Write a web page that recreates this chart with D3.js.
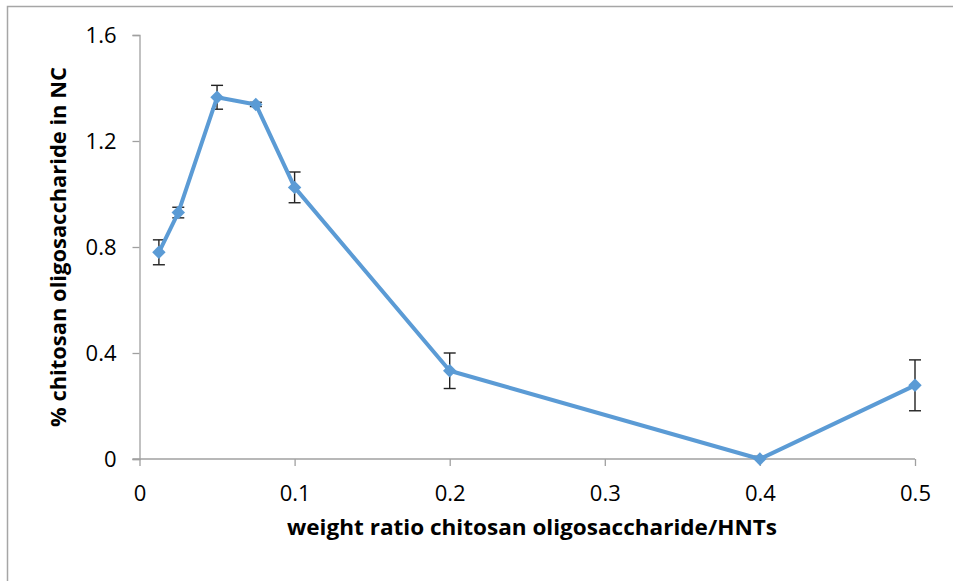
<!DOCTYPE html>
<html>
<head>
<meta charset="utf-8">
<script src="https://cdn.jsdelivr.net/npm/d3@7"></script>
<style>
  body { margin: 0; background: #fff; }
  svg { display: block; }
</style>
</head>
<body>
<svg id="vis"></svg>
<script>
const plotWidth = 953;
const plotHeight = 581;

// data
const ratios = [0.0125, 0.025, 0.05, 0.075, 0.1, 0.2, 0.4, 0.5];
const percents = [0.78, 0.93, 1.365, 1.338, 1.025, 0.333, 0.0, 0.278];
const errors = [0.047, 0.02, 0.045, 0.008, 0.058, 0.067, 0.01, 0.096];
const xTicks = [0, 0.1, 0.2, 0.3, 0.4, 0.5];
const yTicks = [0, 0.4, 0.8, 1.2, 1.6];

const svg = d3.select('#vis')
    .attr('width', plotWidth)
    .attr('height', plotHeight);

// outer chart frame (left + top visible)
svg.append('rect')
    .attr('x', 7.5).attr('y', 6.5)
    .attr('width', 960).attr('height', 600)
    .attr('fill', 'none')
    .attr('stroke', '#a6a6a6')
    .attr('stroke-width', 1.5);

const x = d3.scaleLinear().domain([0, 0.5]).range([139.5, 915]);
const y = d3.scaleLinear().domain([0, 1.6]).range([459, 35]);

const font = "'Open Sans', 'DejaVu Sans', sans-serif";

const xAxis = svg.append('g')
    .attr('transform', `translate(0,${y(0)})`)
    .call(d3.axisBottom(x).tickValues(xTicks).tickSize(7).tickPadding(19)
        .tickFormat(d => d === 0 ? '0' : d3.format('.1f')(d)));

const yAxis = svg.append('g')
    .attr('transform', `translate(${x(0)},0)`)
    .call(d3.axisLeft(y).tickValues(yTicks).tickSize(7).tickPadding(16)
        .tickFormat(d => d === 0 ? '0' : d3.format('.1f')(d)));

[xAxis, yAxis].forEach(a => {
    a.select('.domain').attr('stroke', '#a0a0a0').attr('stroke-width', 1.3);
    a.selectAll('.tick line').attr('stroke', '#a0a0a0').attr('stroke-width', 1.3);
    a.selectAll('.tick text')
        .attr('fill', '#000')
        .style('font-family', font)
        .style('font-size', '22px');
});
// x axis: ticks start at the axis line and go down only
xAxis.select('.domain').attr('d', `M${x(0) - 7},0H${x(0.5)}`);

const pts = ratios.map((r, i) => ({ r: r, v: percents[i], e: errors[i] }));

// error bars
const eb = svg.append('g').selectAll('g').data(pts).enter().append('g');
eb.append('line')
    .attr('x1', d => x(d.r)).attr('x2', d => x(d.r))
    .attr('y1', d => y(d.v + d.e)).attr('y2', d => y(Math.max(0, d.v - d.e)))
    .attr('stroke', '#222').attr('stroke-width', 1.4);
eb.append('line')
    .attr('x1', d => x(d.r) - 6).attr('x2', d => x(d.r) + 6)
    .attr('y1', d => y(d.v + d.e)).attr('y2', d => y(d.v + d.e))
    .attr('stroke', '#222').attr('stroke-width', 1.4);
eb.filter(d => d.v - d.e > 0).append('line')
    .attr('x1', d => x(d.r) - 6).attr('x2', d => x(d.r) + 6)
    .attr('y1', d => y(d.v - d.e)).attr('y2', d => y(d.v - d.e))
    .attr('stroke', '#222').attr('stroke-width', 1.4);

// series line
const line = d3.line().x(d => x(d.r)).y(d => y(d.v));
svg.append('path')
    .datum(pts)
    .attr('d', line)
    .attr('fill', 'none')
    .attr('stroke', '#5b9bd5')
    .attr('stroke-width', 4)
    .attr('stroke-linejoin', 'round');

// diamond markers
svg.append('g').selectAll('path').data(pts).enter().append('path')
    .attr('d', d3.symbol().type(d3.symbolDiamond2).size(115))
    .attr('transform', d => `translate(${x(d.r)},${y(d.v)})`)
    .attr('fill', '#5b9bd5');

// axis titles
svg.append('text')
    .attr('x', 532)
    .attr('y', 535)
    .attr('text-anchor', 'middle')
    .attr('textLength', 490)
    .attr('lengthAdjust', 'spacingAndGlyphs')
    .style('font-family', font)
    .style('font-size', '21px')
    .style('font-weight', 'bold')
    .text('weight ratio chitosan oligosaccharide/HNTs');

svg.append('text')
    .attr('transform', `translate(66,247) rotate(-90)`)
    .attr('text-anchor', 'middle')
    .attr('textLength', 360)
    .attr('lengthAdjust', 'spacingAndGlyphs')
    .style('font-family', font)
    .style('font-size', '21px')
    .style('font-weight', 'bold')
    .text('% chitosan oligosaccharide in NC');
</script>
</body>
</html>
